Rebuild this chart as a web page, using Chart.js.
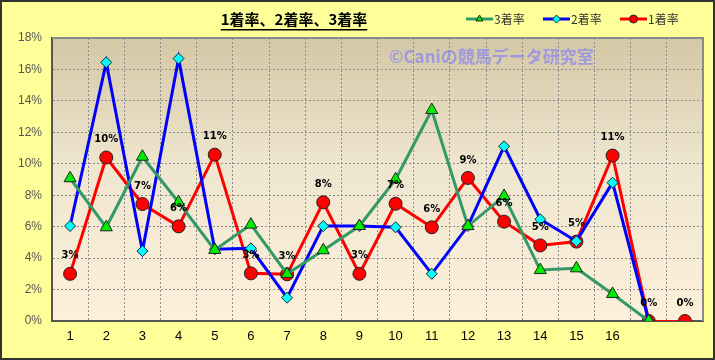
<!DOCTYPE html>
<html>
<head>
<meta charset="utf-8">
<script src="https://cdn.jsdelivr.net/npm/chart.js@4/dist/chart.umd.min.js"></script>
<style>
  html, body { margin: 0; padding: 0; background: #ffff99; }
  #wrap { width: 715px; height: 360px; position: relative; }
</style>
</head>
<body>
<div id="wrap"><canvas id="myChart" width="715" height="360"></canvas></div>
<script>
// データ
const labels = ["1", "2", "3", "4", "5", "6", "7", "8", "9", "10", "11", "12", "13", "14", "15", "16", "", ""];
const rate1 = [3.0, 10.4, 7.44, 6.02, 10.58, 3.03, 2.97, 7.55, 3.0, 7.46, 5.96, 9.1, 6.32, 4.81, 5.05, 10.52, 0, 0];
const rate2 = [6.04, 16.45, 4.45, 16.69, 4.56, 4.62, 1.48, 6.04, 6.04, 5.96, 3.0, 6.04, 11.11, 6.47, 5.07, 8.8, 0, null];
const rate3 = [9.08, 5.96, 10.45, 7.55, 4.52, 6.13, 2.99, 4.5, 6.04, 9.01, 13.42, 6.04, 7.95, 3.24, 3.35, 1.72, 0, null];
const yTicks = [0, 2, 4, 6, 8, 10, 12, 14, 16, 18];

const titleText = "1着率、2着率、3着率";
const watermark = "©Caniの競馬データ研究室";
const jp = '"Noto Sans CJK JP", sans-serif';

// 背景・枠・タイトル・凡例
const decor = {
  id: "decor",
  beforeDraw(chart) {
    const c = chart.ctx;
    const a = chart.chartArea;
    c.save();
    c.fillStyle = "#ffff99";
    c.fillRect(0, 0, chart.width, chart.height);
    const g = c.createLinearGradient(0, a.top, 0, a.bottom);
    g.addColorStop(0, "#d4c7a5");
    g.addColorStop(0.45, "#efe6cf");
    g.addColorStop(1, "#fdf0db");
    c.fillStyle = g;
    c.fillRect(a.left, a.top, a.right - a.left, a.bottom - a.top);
    c.restore();
  },
  beforeDatasetsDraw(chart) {
    const c = chart.ctx;
    const a = chart.chartArea;
    c.save();
    // 上と右の枠
    c.strokeStyle = "#8a8a8a";
    c.lineWidth = 2;
    c.beginPath();
    c.moveTo(a.left, a.top);
    c.lineTo(a.right, a.top);
    c.lineTo(a.right, a.bottom);
    c.stroke();
    // 透かし
    c.font = "bold 17px " + jp;
    c.fillStyle = "rgba(120,120,255,0.6)";
    c.textBaseline = "middle";
    c.fillText(watermark, 389, 57);
    c.restore();
  },
  afterDraw(chart) {
    const c = chart.ctx;
    c.save();
    // 外枠
    c.strokeStyle = "#333";
    c.lineWidth = 2;
    c.strokeRect(1, 1, chart.width - 2, chart.height - 2);
    // タイトル
    c.font = "bold 15px " + jp;
    c.fillStyle = "#000";
    c.textBaseline = "middle";
    c.textAlign = "center";
    c.fillText(titleText, 294, 19);
    const w = c.measureText(titleText).width;
    c.fillRect(294 - w / 2, 29, w, 1.5);
    // 凡例
    const items = [
      { x: 466, text: "3着率", color: "#339966", fill: "#00ee00", style: "triangle" },
      { x: 543, text: "2着率", color: "#0000ff", fill: "#00ffff", style: "rectRot" },
      { x: 620, text: "1着率", color: "#ff0000", fill: "#ff0000", style: "circle" }
    ];
    c.textAlign = "left";
    c.font = "12px " + jp;
    items.forEach((it) => {
      c.strokeStyle = it.color;
      c.lineWidth = 3;
      c.beginPath();
      c.moveTo(it.x, 19);
      c.lineTo(it.x + 27, 19);
      c.stroke();
      c.fillStyle = it.fill;
      c.strokeStyle = "#222";
      c.lineWidth = 1;
      Chart.helpers.drawPoint(c, { pointStyle: it.style, radius: 4, borderWidth: 1 }, it.x + 13.5, 19);
      c.fillStyle = "#333";
      c.fillText(it.text, it.x + 28, 19);
    });
    c.restore();
  },
  afterDatasetsDraw(chart) {
    // 1着率のラベル
    const c = chart.ctx;
    const meta = chart.getDatasetMeta(2);
    c.save();
    c.font = "bold 10px 'DejaVu Sans', sans-serif";
    c.fillStyle = "#000";
    c.textAlign = "center";
    c.textBaseline = "middle";
    meta.data.forEach((p, i) => {
      c.fillText(Math.round(rate1[i]) + "%", p.x, p.y - 18);
    });
    c.restore();
  }
};

const ctx = document.getElementById("myChart").getContext("2d");
const chart = new Chart(ctx, {
  type: "line",
  data: {
    labels: labels,
    datasets: [
      {
        label: "3着率",
        data: rate3,
        borderColor: "#339966",
        backgroundColor: "#00ee00",
        pointBackgroundColor: "#00ee00",
        pointBorderColor: "#222",
        pointBorderWidth: 1,
        pointStyle: "triangle",
        pointRadius: 7,
        borderWidth: 3,
        tension: 0
      },
      {
        label: "2着率",
        data: rate2,
        borderColor: "#0000ff",
        backgroundColor: "#00ffff",
        pointBackgroundColor: "#00ffff",
        pointBorderColor: "#222",
        pointBorderWidth: 1,
        pointStyle: "rectRot",
        pointRadius: 5.5,
        borderWidth: 3,
        tension: 0
      },
      {
        label: "1着率",
        data: rate1,
        borderColor: "#ff0000",
        backgroundColor: "#ff0000",
        pointBackgroundColor: "#ff0000",
        pointBorderColor: "#222",
        pointBorderWidth: 1,
        pointStyle: "circle",
        pointRadius: 6.5,
        borderWidth: 3,
        segment: {
          borderWidth: (s) => (s.p0DataIndex === 16 ? 2 : 3)
        },
        tension: 0
      }
    ]
  },
  options: {
    responsive: false,
    animation: false,
    layout: { padding: { top: 38, right: 12, left: 0, bottom: 0 } },
    plugins: {
      legend: { display: false },
      title: { display: false },
      tooltip: { enabled: false }
    },
    scales: {
      x: {
        offset: true,
        grid: {
          offset: true,
          color: "#8c8c8c",
          lineWidth: 1,
          drawTicks: false
        },
        border: { color: "#555", width: 2, dash: [2, 2] },
        ticks: {
          color: "#000",
          padding: 8,
          font: { family: "Arial, 'Liberation Sans', sans-serif", size: 13 },
          maxRotation: 0,
          autoSkip: false
        },
        afterFit(scale) { scale.height = 39; }
      },
      y: {
        min: 0,
        max: 18,
        afterBuildTicks(scale) {
          scale.ticks = yTicks.map((v) => ({ value: v }));
        },
        grid: {
          color: "#8c8c8c",
          lineWidth: 1,
          drawTicks: false
        },
        border: { color: "#555", width: 2, dash: [2, 2] },
        ticks: {
          color: "#555",
          padding: 10,
          font: { family: "Arial, 'Liberation Sans', sans-serif", size: 12 },
          callback: (v) => v + "%"
        },
        afterFit(scale) { scale.width = 52; }
      }
    }
  },
  plugins: [decor]
});
</script>
</body>
</html>
